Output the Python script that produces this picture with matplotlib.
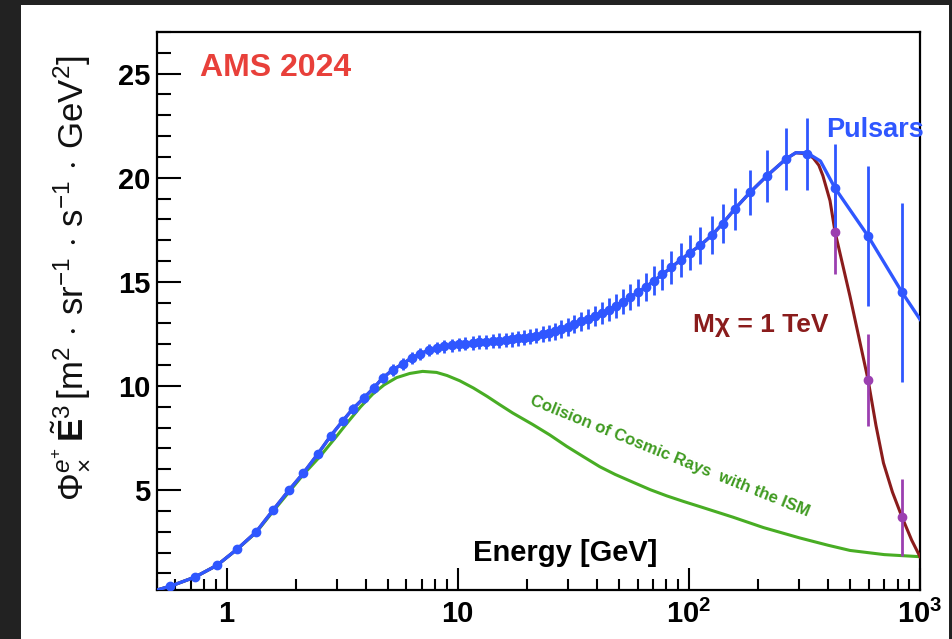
import numpy as np
import matplotlib.pyplot as plt
from matplotlib.patches import Rectangle
from matplotlib.ticker import MultipleLocator, LogLocator, NullFormatter

plt.rcParams['font.family'] = ['Liberation Sans', 'DejaVu Sans']
plt.rcParams['mathtext.fontset'] = 'custom'
plt.rcParams['mathtext.rm'] = 'Liberation Sans'
plt.rcParams['mathtext.it'] = 'Liberation Sans:italic'
plt.rcParams['mathtext.bf'] = 'Liberation Sans:bold'

# AMS positron flux x E^3
energy = [0.57, 0.73, 0.91, 1.11, 1.34, 1.59, 1.86, 2.15, 2.48, 2.82,
          3.18, 3.51, 3.92, 4.33, 4.73, 5.23, 5.78, 6.32, 6.9, 7.5,
          8.1, 8.75, 9.4, 10.1, 10.8, 11.6, 12.4, 13.3, 14.2, 15.1,
          16.1, 17.1, 18.2, 19.4, 20.6, 21.9, 23.3, 24.8, 26.4, 28.1,
          30.0, 32.0, 34.2, 36.6, 39.2, 42.0, 45.0, 48.3, 51.9, 55.9,
          60.3, 65.2, 70.7, 76.9, 84.0, 92.1, 101, 112, 126, 140,
          158, 184, 218, 263, 324]
flux = [0.38, 0.82, 1.39, 2.16, 2.98, 4.04, 4.99, 5.82, 6.73, 7.60,
        8.32, 8.89, 9.42, 9.90, 10.38, 10.77, 11.06, 11.35, 11.54, 11.73,
        11.83, 11.90, 11.96, 12.00, 12.03, 12.06, 12.10, 12.12, 12.15, 12.18,
        12.20, 12.24, 12.28, 12.32, 12.37, 12.42, 12.48, 12.55, 12.63, 12.73,
        12.85, 12.98, 13.10, 13.22, 13.36, 13.50, 13.66, 13.84, 14.04, 14.26,
        14.50, 14.76, 15.05, 15.36, 15.70, 16.05, 16.40, 16.75, 17.25, 17.80,
        18.50, 19.30, 20.10, 20.90, 21.15]
flux_err = [0.08, 0.08, 0.08, 0.08, 0.08, 0.1, 0.12, 0.14, 0.16, 0.18,
            0.2, 0.22, 0.24, 0.25, 0.26, 0.27, 0.28, 0.28, 0.29, 0.3,
            0.3, 0.3, 0.31, 0.31, 0.32, 0.32, 0.33, 0.33, 0.34, 0.34,
            0.35, 0.35, 0.36, 0.36, 0.37, 0.38, 0.39, 0.4, 0.41, 0.42,
            0.43, 0.45, 0.47, 0.48, 0.5, 0.52, 0.55, 0.57, 0.6, 0.62,
            0.65, 0.68, 0.7, 0.74, 0.78, 0.82, 0.85, 0.88, 0.9, 0.95,
            1.0, 1.08, 1.25, 1.5, 1.73]

# highest energy points, shown for both models
hi_energy = [429, 596, 836]
hi_pulsar = [19.5, 17.2, 14.5]
hi_pulsar_err = [2.1, 3.35, 4.3]
hi_dm = [17.4, 10.3, 3.7]
hi_dm_err = [2.0, 2.2, 1.85]

# model curves
curve_start_e = [0.5]
curve_start = [0.2]
pulsar_tail_e = [290, 324, 371, 429, 596, 836, 1000]
pulsar_tail = [21.2, 21.2, 20.8, 19.5, 17.2, 14.5, 13.2]
dm_tail_e = [290, 324, 345, 365, 380, 408, 429, 498, 596, 645, 695, 760, 836, 920, 1000]
dm_tail = [21.2, 21.15, 20.95, 20.6, 20.1, 18.9, 17.4, 14.3, 10.3, 8.1, 6.3, 4.9, 3.7, 2.6, 1.8]

ism_energy = [0.5, 0.57, 0.73, 0.91, 1.11, 1.34, 1.59, 1.86, 2.15, 2.53,
              3.0, 3.31, 3.8, 4.28, 4.8, 5.44, 6.2, 7.05, 8.1, 9.0,
              10.2, 11.7, 13.4, 15.2, 17.3, 21.1, 25, 29.6, 35, 41.2,
              48, 57.2, 68, 80.3, 95, 112, 155, 210, 302, 400,
              498, 700, 1000]
ism_flux = [0.2, 0.38, 0.82, 1.39, 2.15, 2.95, 3.98, 4.9, 5.75, 6.6,
            7.6, 8.2, 9.0, 9.6, 10.05, 10.4, 10.6, 10.7, 10.65, 10.5,
            10.25, 9.9, 9.5, 9.1, 8.7, 8.15, 7.65, 7.1, 6.6, 6.12,
            5.75, 5.38, 5.02, 4.72, 4.45, 4.2, 3.7, 3.2, 2.7, 2.35,
            2.1, 1.9, 1.8]

blue = '#2f57ff'
darkred = '#8a1c1c'
green = '#48ad24'
magenta = '#9b3fb0'

fig = plt.figure(figsize=(9.53, 6.39), dpi=100, facecolor='#222222')
fig.patches.append(Rectangle((21 / 953, 0), 928 / 953, 634 / 639,
                             transform=fig.transFigure, facecolor='white',
                             edgecolor='none', zorder=-10))
ax = fig.add_axes([157 / 953, 49 / 639, 763 / 953, 558 / 639])
ax.set_zorder(1)

curve_e = curve_start_e + energy[:-1]
curve = curve_start + flux[:-1]

ax.plot(ism_energy, ism_flux, color=green, lw=2.2, zorder=2)
ax.plot(curve_e + dm_tail_e, curve + dm_tail, color=darkred, lw=2.2, zorder=3)
ax.plot(curve_e + pulsar_tail_e, curve + pulsar_tail, color=blue, lw=2.4, zorder=4)

ax.errorbar(hi_energy, hi_dm, yerr=hi_dm_err, fmt='none', ecolor=magenta,
            elinewidth=2, capsize=0, zorder=4)
ax.errorbar(energy, flux, yerr=flux_err, fmt='o', color=blue, ms=6,
            elinewidth=2, capsize=0, zorder=5)
ax.errorbar(hi_energy, hi_pulsar, yerr=hi_pulsar_err, fmt='o', color=blue, ms=6,
            elinewidth=2, capsize=0, zorder=5)
ax.plot(hi_energy, hi_dm, 'o', color=magenta, ms=6, zorder=6)

ax.set_xscale('log')
ax.set_xlim(0.5, 1000)
ax.set_ylim(0.2, 27)

ax.set_xticks([1, 10, 100, 1000])
ax.set_xticklabels(['1', '10', r'$\mathbf{10^{2}}$', r'$\mathbf{10^{3}}$'])
ax.xaxis.set_minor_locator(LogLocator(base=10, subs=np.arange(2, 10)))
ax.xaxis.set_minor_formatter(NullFormatter())
ax.yaxis.set_major_locator(MultipleLocator(5))
ax.yaxis.set_minor_locator(MultipleLocator(1))

ax.tick_params(which='both', direction='in', top=False, right=False, width=1.5)
ax.tick_params(axis='x', which='major', length=16, labelsize=21, pad=7)
ax.tick_params(axis='x', which='minor', length=8)
ax.tick_params(axis='y', which='major', length=17, labelsize=21, pad=5)
ax.tick_params(axis='y', which='minor', length=10)
for lbl in ax.get_xticklabels() + ax.get_yticklabels():
    lbl.set_fontweight('bold')
for sp in ax.spines.values():
    sp.set_linewidth(1.6)

ax.text(0.056, 0.935, 'AMS 2024', transform=ax.transAxes, color='#e8403a',
        fontsize=23, fontweight='bold', va='center', ha='left')
ax.text(0.877, 0.824, 'Pulsars', transform=ax.transAxes, color=blue,
        fontsize=19.5, fontweight='bold', va='center', ha='left', clip_on=False)
ax.text(0.7025, 0.475, 'Mχ = 1 TeV', transform=ax.transAxes, color=darkred,
        fontsize=19, fontweight='bold', va='center', ha='left')
ax.text(0.672, 0.24, 'Colision of Cosmic Rays  with the ISM', transform=ax.transAxes,
        color='#3f9a20', fontsize=12, fontweight='bold', rotation=-22,
        rotation_mode='anchor', va='center', ha='center')
ax.text(0.535, 0.066, 'Energy [GeV]', transform=ax.transAxes, color='black',
        fontsize=21, fontweight='bold', va='center', ha='center')

fig.text(70 / 953, 1 - 278 / 639,
         r'$\Phi^{e^{+}}_{\times}\,\tilde{\mathbf{E}}^{3}\,[\mathrm{m}^{2}\,\cdot\,\mathrm{sr}^{-1}'
         r'\,\cdot\,\mathrm{s}^{-1}\,\cdot\,\mathrm{GeV}^{2}]$',
         rotation=90, ha='center', va='center', fontsize=25, color='#111111')

fig.savefig('out.png', dpi=100, facecolor=fig.get_facecolor())
